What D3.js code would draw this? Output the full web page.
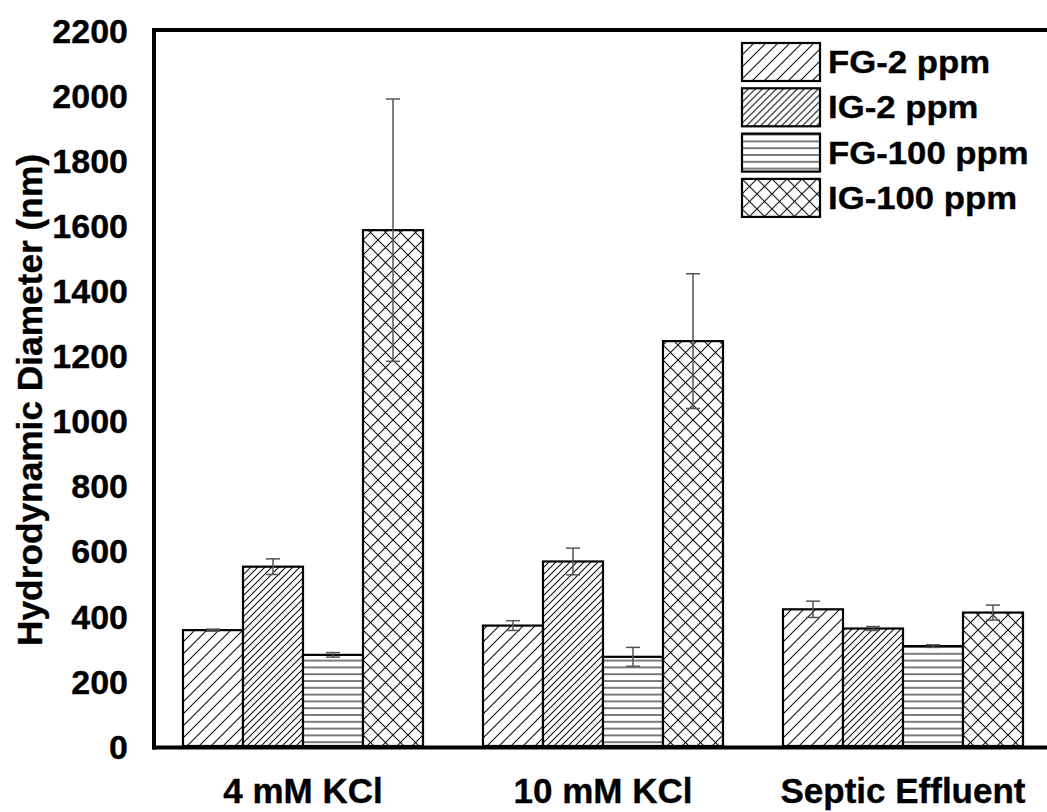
<!DOCTYPE html>
<html>
<head>
<meta charset="utf-8">
<script src="https://cdn.jsdelivr.net/npm/d3@7"></script>
<style>
  html, body { margin: 0; padding: 0; background: #fff; }
  svg { display: block; }
  text { font-family: "Liberation Sans", Arial, sans-serif; font-weight: bold; fill: #000; stroke: #000; stroke-width: 0.35px; }
</style>
</head>
<body>
<svg id="chart" width="1047" height="812"></svg>
<script>
// Hydrodynamic diameter (nm) by medium and nanoparticle treatment
const categories = ["4 mM KCl", "10 mM KCl", "Septic Effluent"];
const seriesNames = ["FG-2 ppm", "IG-2 ppm", "FG-100 ppm", "IG-100 ppm"];
const fg2   = [356, 370, 420];
const ig2   = [551, 567, 361];
const fg100 = [280, 274, 307];
const ig100 = [1585, 1244, 410];
const fg2Err   = [3, 15, 25];
const ig2Err   = [24, 41, 6];
const fg100Err = [7, 29, 4];
const ig100Err = [403, 207, 23];
const yTicks = [0, 200, 400, 600, 800, 1000, 1200, 1400, 1600, 1800, 2000, 2200];

const seriesValues = [fg2, ig2, fg100, ig100];
const seriesErrors = [fg2Err, ig2Err, fg100Err, ig100Err];
const patternIds = ["hatchWide", "hatchFine", "hatchHoriz", "hatchCross"];

const svg = d3.select("#chart");
const plotLeft = 153, plotRight = 1053, plotTop = 30, plotBottom = 746;

const x0 = d3.scaleBand().domain(categories).range([plotLeft, plotRight]).paddingInner(0).paddingOuter(0);
const x1 = d3.scaleBand().domain(seriesNames).range([0, x0.bandwidth()]).paddingInner(0).paddingOuter(0.5);
const y = d3.scaleLinear().domain([0, 2200]).range([plotBottom, plotTop]);

// fill patterns
const defs = svg.append("defs");
function diagPattern(id, p, cross) {
  const pat = defs.append("pattern").attr("id", id)
    .attr("patternUnits", "userSpaceOnUse").attr("width", p).attr("height", p);
  pat.append("rect").attr("width", p).attr("height", p).attr("fill", "#fff");
  let d = `M0,${p} L${p},0 M-1,1 L1,-1 M${p - 1},${p + 1} L${p + 1},${p - 1}`;
  if (cross) d += ` M0,0 L${p},${p} M-1,${p - 1} L1,${p + 1} M${p - 1},-1 L${p + 1},1`;
  pat.append("path").attr("d", d).attr("stroke", "#111").attr("stroke-width", 1.1).attr("fill", "none");
}
diagPattern("hatchWide", 12, false);
diagPattern("hatchFine", 7, false);
diagPattern("hatchCross", 15, true);
{
  const ph = 6.8;
  const pat = defs.append("pattern").attr("id", "hatchHoriz")
    .attr("patternUnits", "userSpaceOnUse").attr("width", 10).attr("height", ph);
  pat.append("rect").attr("width", 10).attr("height", ph).attr("fill", "#fff");
  pat.append("line").attr("x1", 0).attr("x2", 10).attr("y1", 1).attr("y2", 1)
    .attr("stroke", "#111").attr("stroke-width", 1.1);
}

// stretch helper for the wide bold lettering
function stretch(sel, k) {
  sel.each(function () {
    const w = this.getComputedTextLength();
    d3.select(this).attr("textLength", w * k).attr("lengthAdjust", "spacingAndGlyphs");
  });
}

// bars
const rows = categories.map((c, i) => ({ c, i }));
const groups = svg.append("g").selectAll("g").data(rows).join("g")
  .attr("transform", d => `translate(${x0(d.c)},0)`);

const cells = d => seriesNames.map((s, j) => ({ s, j, v: seriesValues[j][d.i], e: seriesErrors[j][d.i] }));

groups.selectAll("rect").data(cells)
  .join("rect")
  .attr("x", d => x1(d.s))
  .attr("y", d => y(d.v))
  .attr("width", x1.bandwidth())
  .attr("height", d => y(0) - y(d.v))
  .attr("fill", d => `url(#${patternIds[d.j]})`)
  .attr("stroke", "#000")
  .attr("stroke-width", 2.2);

// error bars
const errG = groups.selectAll("g.err").data(cells)
  .join("g").attr("class", "err")
  .attr("transform", d => `translate(${x1(d.s) + x1.bandwidth() / 2},0)`)
  .attr("stroke", "#555").attr("stroke-width", 1.5);
errG.append("line").attr("x1", 0).attr("x2", 0).attr("y1", d => y(d.v + d.e)).attr("y2", d => y(d.v - d.e));
errG.append("line").attr("x1", -7).attr("x2", 7).attr("y1", d => y(d.v + d.e)).attr("y2", d => y(d.v + d.e));
errG.append("line").attr("x1", -7).attr("x2", 7).attr("y1", d => y(d.v - d.e)).attr("y2", d => y(d.v - d.e));

// frame: left axis, bottom axis, top border
svg.append("line").attr("x1", plotLeft + 1).attr("x2", plotLeft + 1).attr("y1", plotTop - 2).attr("y2", plotBottom + 3.5)
  .attr("stroke", "#000").attr("stroke-width", 4);
svg.append("line").attr("x1", plotLeft - 1).attr("x2", 1047).attr("y1", plotBottom + 1.5).attr("y2", plotBottom + 1.5)
  .attr("stroke", "#000").attr("stroke-width", 4);
svg.append("line").attr("x1", plotLeft - 1).attr("x2", 1047).attr("y1", plotTop).attr("y2", plotTop)
  .attr("stroke", "#000").attr("stroke-width", 4);

// y tick labels
const yAxis = d3.axisLeft(y).tickValues(yTicks).tickSize(0).tickPadding(26).tickFormat(d3.format("d"));
const gy = svg.append("g").attr("transform", `translate(${plotLeft + 1},0)`).call(yAxis);
gy.select(".domain").remove();
gy.selectAll("text").style("font-size", "34px").attr("dy", "0.36em")
  .style("font-family", "'Liberation Sans', Arial, sans-serif").style("font-weight", "bold").attr("fill", "#000");

// category labels
const xAxis = d3.axisBottom(x0).tickSize(0).tickPadding(0);
const gx = svg.append("g").attr("transform", `translate(0,${plotBottom})`).call(xAxis);
gx.select(".domain").remove();
gx.selectAll("text").attr("y", 57).attr("dy", 0).style("font-size", "35px")
  .style("font-family", "'Liberation Sans', Arial, sans-serif").style("font-weight", "bold").attr("fill", "#000");

// y axis title
svg.append("text")
  .attr("transform", "translate(42,400) rotate(-90)")
  .attr("text-anchor", "middle")
  .style("font-size", "35px")
  .attr("textLength", 492).attr("lengthAdjust", "spacingAndGlyphs")
  .text("Hydrodynamic Diameter (nm)");

// legend
const legend = svg.append("g").attr("transform", "translate(742,43)");
const li = legend.selectAll("g").data(seriesNames).join("g")
  .attr("transform", (d, i) => `translate(0,${i * 45.3})`);
li.append("rect").attr("width", 78).attr("height", 38)
  .attr("fill", (d, i) => `url(#${patternIds[i]})`)
  .attr("stroke", "#000").attr("stroke-width", 2.2);
li.append("text").attr("x", 86).attr("y", 30).style("font-size", "31px").text(d => d)
  .call(stretch, 1.12);
</script>
</body>
</html>
